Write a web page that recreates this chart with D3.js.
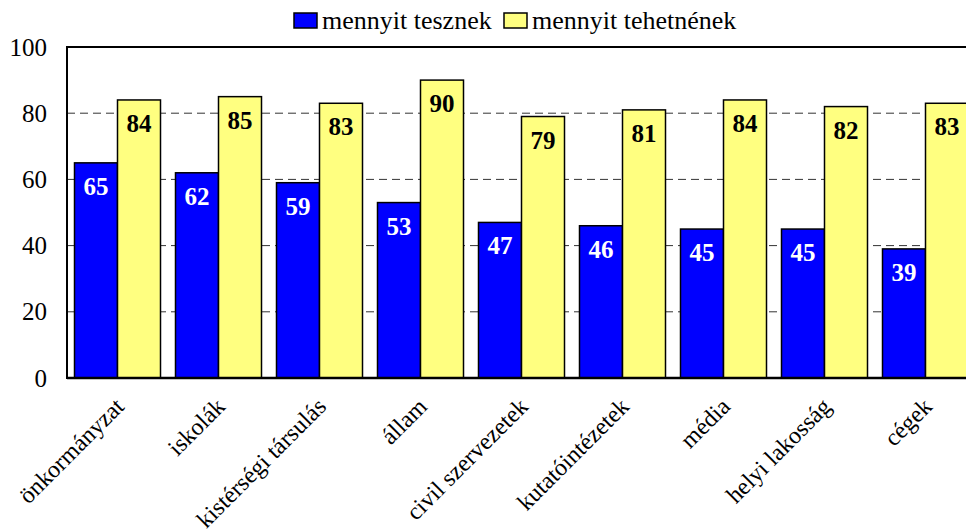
<!DOCTYPE html>
<html><head><meta charset="utf-8">
<script src="https://cdn.jsdelivr.net/npm/d3@7"></script>
</head><body><svg id="c" width="966" height="529"></svg>
<script>
const categories = ["önkormányzat","iskolák","kistérségi társulás","állam","civil szervezetek","kutatóintézetek","média","helyi lakosság","cégek"];
const seriesNames = ["mennyit tesznek","mennyit tehetnének"];
const doValues = [65,62,59,53,47,46,45,45,39];
const couldValues = [84,85,83,90,79,81,84,82,83];
const yTicks = [0,20,40,60,80,100];
const colors = ["#0000FF","#FFFF80"];
const labelColors = ["#FFFFFF","#000000"];

(function(){
document.body.style.margin = "0";
const FONT = '"Liberation Serif"';
const svg = d3.select("#c").style("display","block");
const mLeft = 67, mTop = 47, mBottom = 378, step = 101;
const x0 = d3.scaleBand().domain(categories).range([mLeft, mLeft + step*categories.length]).padding(0);
const x1 = d3.scaleBand().domain(seriesNames).range([0, x0.bandwidth()]).paddingInner(0).paddingOuter(0.1744);
const y = d3.scaleLinear().domain([0,100]).range([mBottom, mTop]);
const W = 966;

svg.append("g").selectAll("line").data(yTicks.filter(t=>t>0 && t<100)).join("line")
  .attr("x1", mLeft).attr("x2", W).attr("y1", d=>y(d)).attr("y2", d=>y(d))
  .attr("stroke","#333").attr("stroke-width",1).attr("stroke-dasharray","8,5");
svg.append("line").attr("x1",mLeft).attr("x2",W).attr("y1",y(100)).attr("y2",y(100)).attr("stroke","#000").attr("stroke-width",2);

const data = categories.map((c,i)=>({c, vals:[doValues[i], couldValues[i]]}));
const g = svg.append("g").selectAll("g").data(data).join("g").attr("transform", d=>`translate(${x0(d.c)},0)`);
seriesNames.forEach((s,si)=>{
  g.append("rect").attr("x", x1(s)).attr("width", x1.bandwidth())
    .attr("y", d=>y(d.vals[si])).attr("height", d=>y(0)-y(d.vals[si]))
    .attr("fill", colors[si]).attr("stroke","#000").attr("stroke-width",1.5);
  g.append("text").attr("x", x1(s)+x1.bandwidth()/2).attr("y", d=>y(d.vals[si])+32)
    .attr("text-anchor","middle").attr("font-weight","bold").attr("font-size",25)
    .style("font-family",FONT).attr("fill", labelColors[si]).text(d=>d.vals[si]);
});

const ya = svg.append("g").attr("transform",`translate(${mLeft},0)`)
  .call(d3.axisLeft(y).tickValues(yTicks).tickSize(0).tickPadding(20));
ya.attr("font-family",null).attr("font-size",null);
ya.select(".domain").remove();
ya.selectAll("text").style("font-family",FONT).attr("font-size",25).attr("fill","#000");
svg.append("line").attr("x1",mLeft).attr("x2",mLeft).attr("y1",mTop-1).attr("y2",mBottom+1).attr("stroke","#000").attr("stroke-width",2);
svg.append("line").attr("x1",mLeft).attr("x2",W).attr("y1",mBottom).attr("y2",mBottom).attr("stroke","#000").attr("stroke-width",2.5);

svg.append("g").selectAll("text").data(categories).join("text")
  .attr("transform", d=>`translate(${x0(d)+x0.bandwidth()/2+8},${mBottom+30}) rotate(-45)`)
  .attr("text-anchor","end").attr("font-size",24).style("font-family",FONT).attr("fill","#000").text(d=>d);

const legX = [294, 504];
seriesNames.forEach((s,i)=>{
  svg.append("rect").attr("x",legX[i]).attr("y",13).attr("width",23).attr("height",15)
    .attr("fill",colors[i]).attr("stroke","#000").attr("stroke-width",1.5);
  svg.append("text").attr("x",legX[i]+28).attr("y",29).attr("font-size",26).style("font-family",FONT).attr("fill","#000").text(s);
});
})();
</script></body></html>
